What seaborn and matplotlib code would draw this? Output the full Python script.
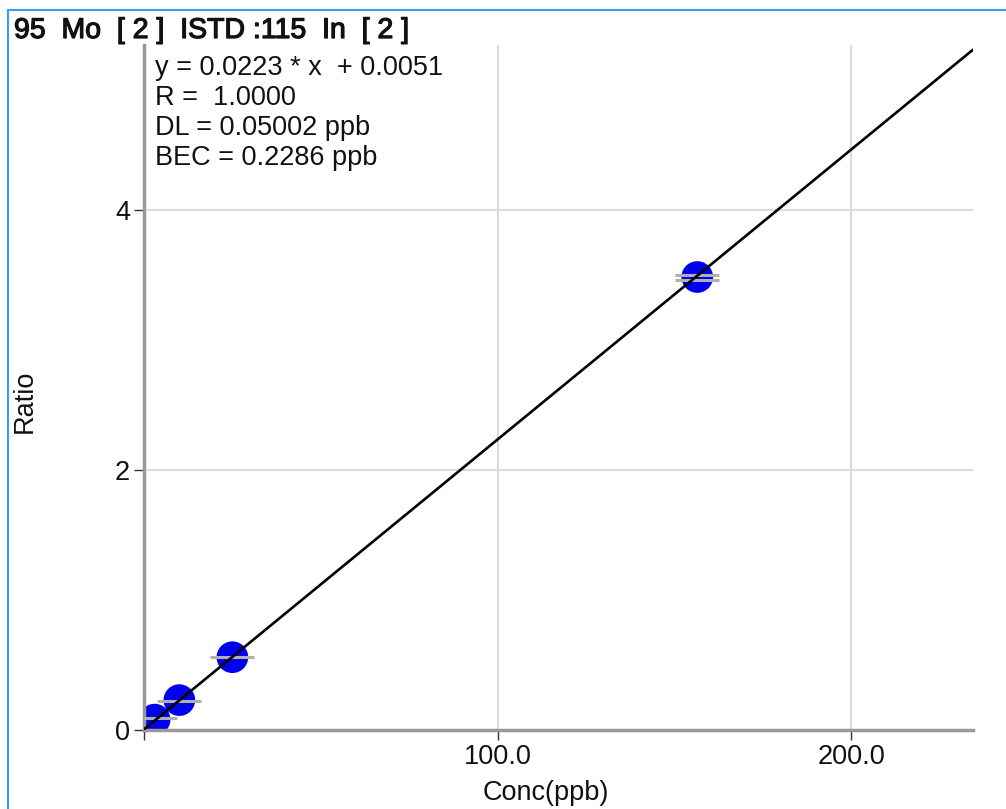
import matplotlib
matplotlib.use("Agg")
import matplotlib.pyplot as plt
import matplotlib.patheffects as pe
import seaborn as sns
import pandas as pd

# calibration standards
conc = [3.0, 10.0, 25.0, 156.5]
ratio = [0.08, 0.23, 0.56, 3.485]
# replicate ratios (gray bars)
rep_conc = [3.0, 10.0, 25.0, 156.5, 156.5]
rep_ratio = [0.09, 0.22, 0.565, 3.465, 3.50]
# fit line end points: y = 0.0223 * x + 0.0051
fit_x = [0.0, 234.5]
fit_y = [0.0051, 5.234]

title = "95  Mo  [ 2 ]  ISTD :115  In  [ 2 ]"
notes = ["y = 0.0223 * x  + 0.0051", "R =  1.0000", "DL = 0.05002 ppb", "BEC = 0.2286 ppb"]

sns.set_theme(style="white")
plt.rcParams['font.family'] = ['Liberation Sans', 'DejaVu Sans']

fig = plt.figure(figsize=(10.06, 8.09), dpi=100)
ax = fig.add_axes([144 / 1006, 1 - 730 / 809, (973 - 144) / 1006, (730 - 45) / 809])

# blue frame
fig.add_artist(plt.Line2D([8 / 1006, 8 / 1006], [0, 1 - 10 / 809], color="#3c9cf0", lw=1.5, transform=fig.transFigure))
fig.add_artist(plt.Line2D([8 / 1006, 1], [1 - 10 / 809, 1 - 10 / 809], color="#3c9cf0", lw=1.5, transform=fig.transFigure))

ax.set_xlim(0, 234.5)
ax.set_ylim(0, 5.27)

for gx in [100, 200]:
    ax.axvline(gx, color="#dcdcdc", lw=1.5, zorder=0)
for gy in [2, 4]:
    ax.axhline(gy, color="#dcdcdc", lw=1.5, zorder=0)

pts = pd.DataFrame({"Conc": conc, "Ratio": ratio})
sns.scatterplot(data=pts, x="Conc", y="Ratio", ax=ax, s=520, color="#0000ee",
                edgecolor="none", zorder=2, clip_on=True)

reps = pd.DataFrame({"Conc": rep_conc, "Ratio": rep_ratio})
ax.hlines(reps["Ratio"], reps["Conc"] - 6.2, reps["Conc"] + 6.2, color="#b0b0b0", lw=2.2, zorder=3)

line = pd.DataFrame({"x": fit_x, "y": fit_y})
sns.lineplot(data=line, x="x", y="y", ax=ax, color="black", lw=1.9, zorder=4)

ax.set_xticks([0, 100, 200])
ax.set_xticklabels(["", "100.0", "200.0"])
ax.set_yticks([0, 2, 4])
ax.set_yticklabels(["0", "2", "4"])
ax.tick_params(axis="both", which="both", direction="out", length=7, width=1,
               color="#333333", labelsize=19.5, labelcolor="#111111", left=True, bottom=True, pad=3)

for side in ["top", "right"]:
    ax.spines[side].set_visible(False)
for side in ["left", "bottom"]:
    ax.spines[side].set_color("#999999")
    ax.spines[side].set_linewidth(2.5)

ax.set_xlabel("Conc(ppb)", fontsize=19.5, color="#111111")
ax.xaxis.set_label_coords((546 - 144) / 829, -(780 - 730) / 685)
ax.set_ylabel("Ratio", fontsize=19.5, color="#111111")
ax.yaxis.set_label_coords(-(144 - 38) / 829, 0.48)

fig.text(14 / 1006, 1 - 31 / 809, title, fontsize=20.5, va="center", ha="left", color="#111111",
         path_effects=[pe.withStroke(linewidth=0.9, foreground="#111111")])
for i, t in enumerate(notes):
    fig.text(155 / 1006, 1 - (68 + 30 * i) / 809, t, fontsize=19.5, va="center", ha="left", color="#111111")

fig.savefig("out.png", dpi=100)
